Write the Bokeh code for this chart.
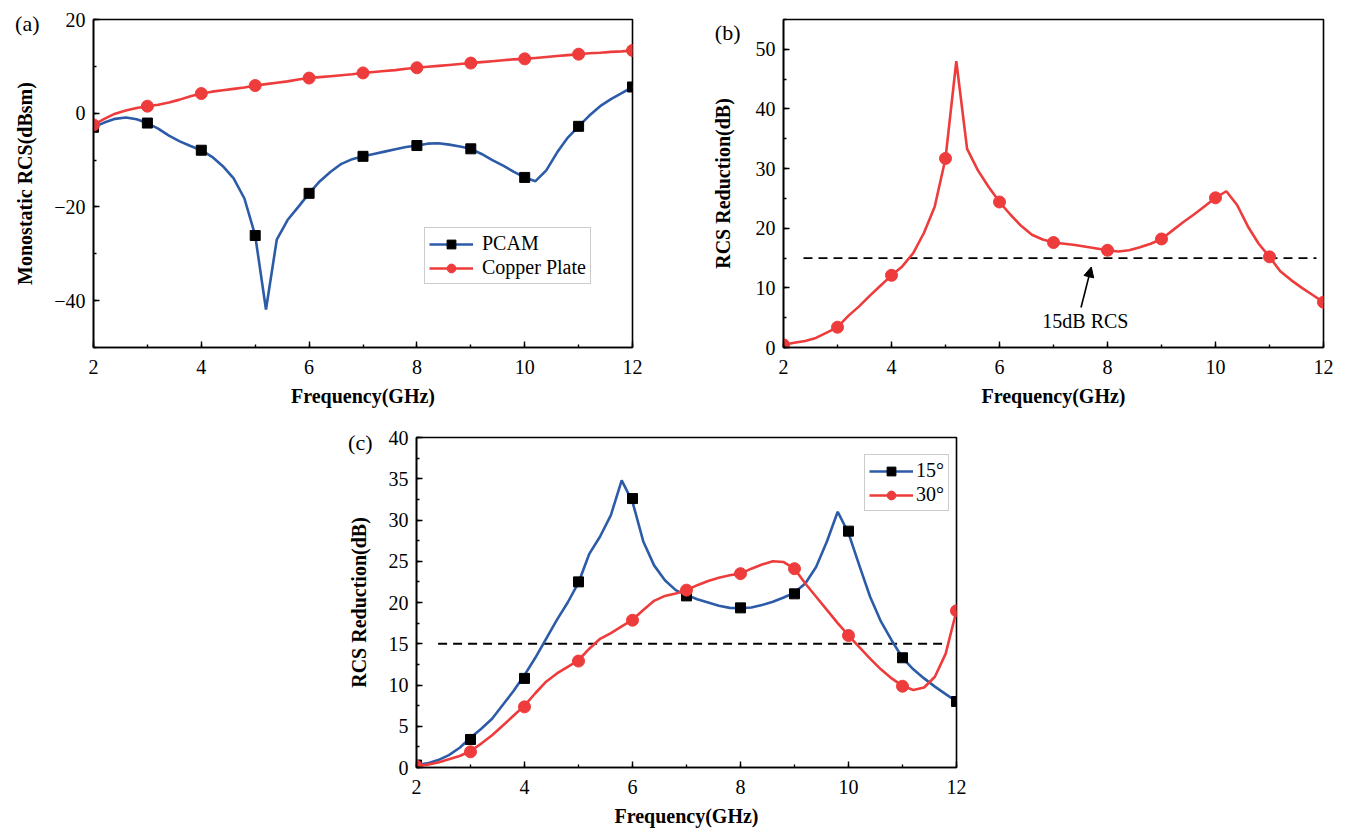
from bokeh.plotting import figure
from bokeh.layouts import column, row
from bokeh.models import (Spacer, Range1d, SingleIntervalTicker, FixedTicker, Legend, LegendItem,
                          Label, Arrow, NormalHead, LinearAxis, CustomJSTickFormatter)
from bokeh.embed import file_html
from bokeh.resources import INLINE

# ---------------- data ----------------
freq = [2.0, 2.2, 2.4, 2.6, 2.8, 3.0, 3.2, 3.4, 3.6, 3.8, 4.0, 4.2, 4.4, 4.6, 4.8,
        5.0, 5.2, 5.4, 5.6, 5.8, 6.0, 6.2, 6.4, 6.6, 6.8, 7.0, 7.2, 7.4, 7.6, 7.8,
        8.0, 8.2, 8.4, 8.6, 8.8, 9.0, 9.2, 9.4, 9.6, 9.8, 10.0, 10.2, 10.4, 10.6, 10.8,
        11.0, 11.2, 11.4, 11.6, 11.8, 12.0]
freq_marks = [2, 3, 4, 5, 6, 7, 8, 9, 10, 11, 12]

# (a) monostatic RCS
pcam = [-3.0, -2.0, -1.2, -0.9, -1.3, -2.1, -3.3, -4.8, -6.0, -7.0, -7.9, -9.3, -11.3, -13.9, -18.2,
        -26.1, -41.9, -27.0, -22.8, -20.0, -17.1, -14.5, -12.5, -10.8, -9.8, -9.2, -8.7, -8.2, -7.7, -7.2,
        -6.9, -6.5, -6.4, -6.7, -7.1, -7.6, -8.7, -10.0, -11.2, -12.5, -13.7, -14.5, -12.2, -8.4, -5.2,
        -2.8, -0.5, 1.5, 3.0, 4.3, 5.6]
pcam_marks = [-3.0, -2.1, -7.9, -26.1, -17.1, -9.2, -6.9, -7.6, -13.7, -2.8, 5.6]
copper = [-2.5, -1.2, -0.1, 0.6, 1.1, 1.5, 1.8, 2.3, 2.9, 3.6, 4.2, 4.6, 4.9, 5.2, 5.5,
          5.9, 6.2, 6.5, 6.8, 7.2, 7.5, 7.7, 7.9, 8.1, 8.3, 8.6, 8.8, 9.0, 9.2, 9.5,
          9.7, 9.9, 10.1, 10.3, 10.5, 10.7, 10.9, 11.1, 11.3, 11.5, 11.6, 11.8, 12.0, 12.2, 12.4,
          12.6, 12.8, 12.9, 13.1, 13.2, 13.4]
copper_marks = [-2.5, 1.5, 4.2, 5.9, 7.5, 8.6, 9.7, 10.7, 11.6, 12.6, 13.4]

# (b) RCS reduction, normal incidence
red_b = [0.45, 0.8, 1.1, 1.6, 2.5, 3.4, 5.3, 6.9, 8.7, 10.4, 12.1, 13.6, 15.8, 19.2, 23.6,
         31.7, 48.0, 33.3, 29.7, 26.9, 24.4, 22.3, 20.4, 18.9, 18.1, 17.6, 17.4, 17.2, 16.9, 16.6,
         16.3, 16.1, 16.3, 16.8, 17.4, 18.2, 19.6, 21.0, 22.3, 23.7, 25.1, 26.2, 23.9, 20.3, 17.4,
         15.2, 12.8, 11.3, 10.0, 8.8, 7.6]
red_b_marks = [0.45, 3.4, 12.1, 31.7, 24.4, 17.6, 16.3, 18.2, 25.1, 15.2, 7.6]

# (c) RCS reduction, oblique incidence
deg15 = [0.3, 0.5, 0.9, 1.5, 2.4, 3.6, 4.7, 5.9, 7.6, 9.3, 11.2, 13.3, 15.6, 17.9, 20.0,
         22.4, 25.9, 28.0, 30.6, 34.8, 32.2, 27.4, 24.5, 22.7, 21.5, 20.9, 20.4, 20.0, 19.6, 19.35,
         19.3, 19.4, 19.7, 20.1, 20.6, 21.2, 22.3, 24.3, 27.4, 31.0, 28.4, 24.5, 20.7, 17.7, 15.4,
         13.3, 11.9, 10.8, 9.8, 8.9, 8.0]
deg15_marks = [0.3, 3.4, 10.8, 22.5, 32.6, 20.8, 19.35, 21.05, 28.65, 13.3, 8.0]
deg30 = [0.15, 0.35, 0.6, 1.0, 1.4, 2.0, 2.9, 3.9, 5.1, 6.3, 7.5, 9.0, 10.4, 11.4, 12.2,
         13.0, 14.4, 15.6, 16.3, 17.1, 17.9, 19.1, 20.2, 20.8, 21.1, 21.5, 22.1, 22.6, 23.0, 23.3,
         23.5, 24.1, 24.6, 25.0, 24.9, 24.1, 22.3, 20.7, 19.1, 17.5, 16.0, 14.6, 13.2, 11.9, 10.8,
         9.9, 9.4, 9.7, 11.0, 13.8, 19.0]
deg30_marks = [0.15, 1.9, 7.35, 12.9, 17.85, 21.5, 23.5, 24.1, 16.0, 9.85, 19.0]

threshold = 15
thr_x_b = [2.37, 11.87]
thr_x_c = [2.4, 11.8]

x_label = "Frequency(GHz)"
ylab_a = "Monostatic RCS(dBsm)"
ylab_b = "RCS Reduction(dB)"
ylab_c = "RCS Reduction(dB)"
tags = ["(a)", "(b)", "(c)"]

# ---------------- styles ----------------
FONT = "Liberation Serif"
BLUE = "#2C5BA8"
RED = "#EE3B3B"


def make_fig(w, h, bl, br, bt, bb, yr, yint, ylab, ylab_standoff):
    p = figure(width=w, height=h, x_range=Range1d(2, 12), y_range=Range1d(*yr),
               output_backend="svg", toolbar_location=None,
               min_border_left=bl, min_border_right=br, min_border_top=bt, min_border_bottom=bb)
    p.grid.visible = False
    p.outline_line_color = "black"
    p.outline_line_width = 1.6
    p.outline_line_alpha = 1
    p.xaxis.ticker = SingleIntervalTicker(interval=2, num_minor_ticks=2)
    p.yaxis.ticker = SingleIntervalTicker(interval=yint, num_minor_ticks=2)
    for ax in (p.xaxis, p.yaxis):
        ax.axis_line_width = 1.6
        ax.axis_line_color = "black"
        ax.major_tick_in = 6
        ax.major_tick_out = 0
        ax.minor_tick_in = 3
        ax.minor_tick_out = 0
        ax.major_tick_line_width = 1.4
        ax.minor_tick_line_width = 1.4
        ax.major_label_text_font = FONT
        ax.major_label_text_font_size = "20px"
        ax.major_label_text_color = "black"
        ax.axis_label_text_font = FONT
        ax.axis_label_text_font_size = "20px"
        ax.axis_label_text_font_style = "bold"
        ax.axis_label_text_color = "black"
    p.xaxis.axis_label = x_label
    p.xaxis.major_label_standoff = 12
    p.xaxis.axis_label_standoff = 8
    p.yaxis.axis_label = ylab
    p.yaxis.major_label_standoff = 8
    p.yaxis.axis_label_standoff = ylab_standoff
    return p


def panel_tag(p, txt, yval, standoff):
    # the panel letter, drawn as the only label of a bare outer axis
    ax = LinearAxis(ticker=FixedTicker(ticks=[yval], minor_ticks=[]),
                    formatter=CustomJSTickFormatter(code="return '%s';" % txt),
                    axis_line_color=None, major_tick_line_color=None, minor_tick_line_color=None,
                    major_label_standoff=standoff, major_label_text_font=FONT,
                    major_label_text_font_size="22px", major_label_text_color="black")
    p.add_layout(ax, "left")


def style_legend(lg):
    lg.label_text_font = FONT
    lg.label_text_font_size = "20px"
    lg.label_text_color = "black"
    lg.border_line_color = "#9a9a9a"
    lg.border_line_width = 1
    lg.background_fill_alpha = 1
    lg.glyph_width = 44
    lg.glyph_height = 22
    lg.label_height = 22
    lg.label_standoff = 9
    lg.spacing = 1
    lg.padding = 4
    lg.margin = 0


# ---------------- panel (a) ----------------
pa = make_fig(690, 420, 93, 58, 17, 73, (-50, 20), 20, ylab_a, 15)
pa.yaxis.major_label_overrides = {-20: "\u221220", -40: "\u221240"}
la = pa.line(freq, pcam, line_color=BLUE, line_width=2.6)
sa = pa.scatter(freq_marks, pcam_marks, marker="square", size=10, fill_color="black", line_color="black")
lc = pa.line(freq, copper, line_color=RED, line_width=2.6)
sc = pa.scatter(freq_marks, copper_marks, marker="circle", size=12, fill_color=RED, line_color=RED)
leg_a = Legend(items=[LegendItem(label="PCAM", renderers=[la, sa]),
                      LegendItem(label="Copper Plate", renderers=[lc, sc])],
               location=(331, 63))
style_legend(leg_a)
pa.add_layout(leg_a)
panel_tag(pa, tags[0], 19.2, -34)

# ---------------- panel (b) ----------------
pb = make_fig(658, 420, 93, 25, 19, 70, (0, 55), 10, ylab_b, 19)
pb.line(thr_x_b, [threshold, threshold], line_color="black", line_width=1.8, line_dash="9 6")
pb.line(freq, red_b, line_color=RED, line_width=2.6)
pb.scatter(freq_marks, red_b_marks, marker="circle", size=12, fill_color=RED, line_color=RED)
pb.add_layout(Arrow(x_start=7.51, y_start=6.7, x_end=7.70, y_end=13.5,
                    line_color="black", line_width=1.6,
                    end=NormalHead(size=10, fill_color="black", line_color="black")))
pb.add_layout(Label(x=7.59, y=4.5, text="15dB RCS", text_font=FONT, text_font_size="20px",
                    text_color="black", text_align="center", text_baseline="middle"))
panel_tag(pb, tags[1], 52.9, -38)

# ---------------- panel (c) ----------------
pc = make_fig(666, 409, 82, 44, 17, 62, (0, 40), 5, ylab_c, 16)
pc.line(thr_x_c, [threshold, threshold], line_color="black", line_width=1.8, line_dash="9 6")
l15 = pc.line(freq, deg15, line_color=BLUE, line_width=2.6)
s15 = pc.scatter(freq_marks, deg15_marks, marker="square", size=10, fill_color="black", line_color="black")
l30 = pc.line(freq, deg30, line_color=RED, line_width=2.6)
s30 = pc.scatter(freq_marks, deg30_marks, marker="circle", size=12, fill_color=RED, line_color=RED)
leg_c = Legend(items=[LegendItem(label="15\u00b0", renderers=[l15, s15]),
                      LegendItem(label="30\u00b0", renderers=[l30, s30])],
               location=(448, 256))
style_legend(leg_c)
leg_c.label_standoff = 3
pc.add_layout(leg_c)
panel_tag(pc, tags[2], 39.4, -34)

layout = column(row(pa, pb), row(Spacer(width=334, height=409), pc))

open("out.html", "w").write(file_html(layout, INLINE))
